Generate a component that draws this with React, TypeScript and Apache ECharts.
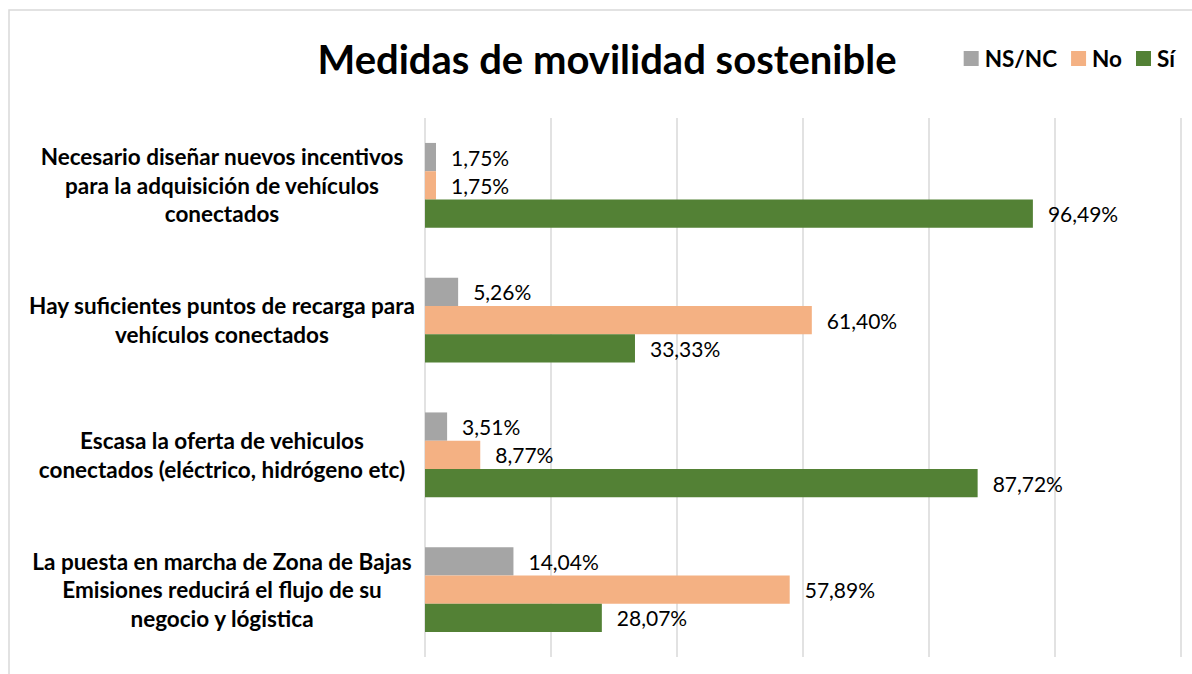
import React, { useEffect, useRef } from "react";
import * as echarts from "echarts";

const categories = [
  "Necesario diseñar nuevos incentivos\npara la adquisición de vehículos\nconectados",
  "Hay suficientes puntos de recarga para\nvehículos conectados",
  "Escasa la oferta de vehiculos\nconectados (eléctrico, hidrógeno etc)",
  "La puesta en marcha de Zona de Bajas\nEmisiones reducirá el flujo de su\nnegocio y lógistica",
];
const seriesNames = ["NS/NC", "No", "Sí"];
const nsnc = [1.75, 5.26, 3.51, 14.04];
const no = [1.75, 61.4, 8.77, 57.89];
const si = [96.49, 33.33, 87.72, 28.07];
const colors = ["#a5a5a5", "#f4b183", "#538135"];
const title = "Medidas de movilidad sostenible";

export default function App() {
  const ref = useRef<HTMLDivElement>(null);
  useEffect(() => {
    document.body.style.margin = "0";
    const chart = echarts.init(ref.current!, undefined, { renderer: "svg" });
    const font = "Lato, 'Open Sans', sans-serif";
    const values = [nsnc, no, si];
    chart.setOption({
      animation: false,
      backgroundColor: "#ffffff",
      textStyle: { fontFamily: font },
      title: {
        text: title,
        left: 602,
        textAlign: "center",
        top: 34,
        textStyle: { fontFamily: font, fontSize: 40, fontWeight: "bold", color: "#000" },
      },
      legend: {
        data: seriesNames,
        right: 12,
        top: 42,
        itemWidth: 15,
        itemHeight: 15,
        itemGap: 14,
        icon: "rect",
        textStyle: { fontFamily: font, fontSize: 22.5, fontWeight: "bold", color: "#000", padding: [0, 0, 0, 1] },
      },
      graphic: [
        {
          type: "rect",
          shape: { x: 9, y: 10, width: 1300, height: 800 },
          style: { fill: "none", stroke: "#d9d9d9", lineWidth: 1.5 },
          silent: true,
        },
      ],
      grid: { left: 425, right: 11, top: 118, bottom: 17 },
      xAxis: {
        type: "value",
        min: 0,
        max: 120,
        interval: 20,
        axisLabel: { show: false },
        axisLine: { show: false },
        axisTick: { show: false },
        splitLine: { show: true, lineStyle: { color: "#d9d9d9", width: 1.5 } },
      },
      yAxis: {
        type: "category",
        data: categories,
        inverse: true,
        axisLine: { show: false },
        axisTick: { show: false },
        axisLabel: {
          align: "center",
          margin: 203,
          fontFamily: font,
          fontSize: 22.5,
          fontWeight: "bold",
          color: "#000",
          lineHeight: 28.5,
        },
      },
      series: seriesNames.map((name, i) => ({
        name,
        type: "bar",
        data: values[i],
        barGap: "0%",
        barCategoryGap: "37%",
        itemStyle: { color: colors[i] },
        label: {
          show: true,
          position: "right",
          distance: 15,
          fontFamily: font,
          fontSize: 21,
          color: "#000",
          formatter: (p: any) => p.value.toFixed(2).replace(".", ",") + "%",
        },
      })),
    });
    return () => chart.dispose();
  }, []);
  return <div ref={ref} style={{ width: 1192, height: 674 }} />;
}
